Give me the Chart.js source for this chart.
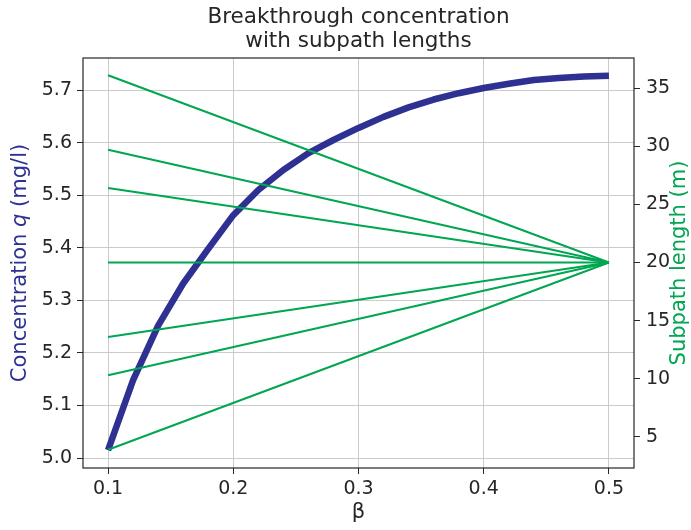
<!DOCTYPE html>
<html>
<head>
<meta charset="utf-8">
<script src="https://cdn.jsdelivr.net/npm/chart.js@4"></script>
<style>
  html, body { margin: 0; padding: 0; background: #fff; }
  canvas { display: block; }
</style>
</head>
<body>
<canvas id="chart" width="691" height="530"></canvas>
<script>
/* ── Data ── */
const betaValues = [0.10, 0.12, 0.14, 0.16, 0.18, 0.20, 0.22, 0.24, 0.26, 0.28, 0.30,
                    0.32, 0.34, 0.36, 0.38, 0.40, 0.42, 0.44, 0.46, 0.48, 0.50];
const concentration = [5.015, 5.148, 5.252, 5.332, 5.398, 5.462, 5.510, 5.548, 5.580, 5.605, 5.628,
                       5.649, 5.667, 5.682, 5.694, 5.704, 5.712, 5.719, 5.723, 5.726, 5.727];
const subpathStart = [36.1, 29.7, 26.4, 20.0, 13.6, 10.3, 3.9];
const subpathEnd = 20.0;
const subpathBeta = [0.1, 0.5];

const xTicks = [0.1, 0.2, 0.3, 0.4, 0.5];
const yTicks = [5.0, 5.1, 5.2, 5.3, 5.4, 5.5, 5.6, 5.7];
const y1Ticks = [5, 10, 15, 20, 25, 30, 35];

const BLUE = '#2e3192';
const GREEN = '#00a651';
const TEXT = '#262626';
const FONT = 'DejaVu Sans';

/* ── Datasets ── */
const greenSets = subpathStart.map(v => ({
  data: [{ x: subpathBeta[0], y: v }, { x: subpathBeta[1], y: subpathEnd }],
  yAxisID: 'y1',
  borderColor: GREEN, borderWidth: 2, pointRadius: 0, order: 0,
}));

const blueSet = {
  data: betaValues.map((b, i) => ({ x: b, y: concentration[i] })),
  yAxisID: 'y',
  borderColor: BLUE, borderWidth: 6.5, pointRadius: 0,
  borderJoinStyle: 'round', tension: 0, order: 1,
};

/* ── Titles, frame ── */
const decor = {
  id: 'decor',
  afterDraw(chart) {
    const { ctx, chartArea: a } = chart;
    ctx.save();
    ctx.strokeStyle = TEXT;
    ctx.lineWidth = 1.2;
    ctx.strokeRect(a.left, a.top, a.right - a.left, a.bottom - a.top);

    const cx = (a.left + a.right) / 2;
    ctx.fillStyle = TEXT;
    ctx.textAlign = 'center';
    ctx.textBaseline = 'middle';
    ctx.font = `21.5px "${FONT}"`;
    ctx.fillText('Breakthrough concentration', cx, 17);
    ctx.fillText('with subpath lengths', cx, 41);

    ctx.font = `21px "${FONT}"`;
    ctx.fillText('β', cx, 513);

    // left axis title, q in italics
    const parts = [['Concentration ', ''], ['q', 'italic '], [' (mg/l)', '']];
    let total = 0;
    parts.forEach(p => { ctx.font = `${p[1]}21px "${FONT}"`; total += ctx.measureText(p[0]).width; });
    ctx.save();
    ctx.translate(21, (a.top + a.bottom) / 2);
    ctx.rotate(-Math.PI / 2);
    ctx.fillStyle = BLUE;
    ctx.textAlign = 'left';
    let px = -total / 2;
    parts.forEach(p => {
      ctx.font = `${p[1]}21px "${FONT}"`;
      ctx.fillText(p[0], px, 0);
      px += ctx.measureText(p[0]).width;
    });
    ctx.restore();

    ctx.save();
    ctx.translate(680, (a.top + a.bottom) / 2);
    ctx.rotate(-Math.PI / 2);
    ctx.fillStyle = GREEN;
    ctx.font = `21px "${FONT}"`;
    ctx.textAlign = 'center';
    ctx.fillText('Subpath length (m)', 0, 0);
    ctx.restore();
    ctx.restore();
  },
};

const tickFont = { family: FONT, size: 19 };

new Chart(document.getElementById('chart'), {
  type: 'line',
  data: { datasets: [...greenSets, blueSet] },
  options: {
    responsive: false,
    animation: false,
    layout: { padding: { top: 58, left: 0, right: 0, bottom: 0 } },
    plugins: { legend: { display: false }, tooltip: { enabled: false }, title: { display: false } },
    scales: {
      x: {
        type: 'linear', min: 0.08, max: 0.52,
        afterBuildTicks: s => { s.ticks = xTicks.map(v => ({ value: v })); },
        afterFit: s => { s.height = 62; },
        border: { display: false },
        grid: { color: '#cbcbcb', lineWidth: 1, tickColor: TEXT, tickLength: 6 },
        ticks: { color: TEXT, font: tickFont, padding: 4, maxRotation: 0, callback: v => v.toFixed(1) },
      },
      y: {
        position: 'left', min: 4.981, max: 5.761,
        afterBuildTicks: s => { s.ticks = yTicks.map(v => ({ value: v })); },
        afterFit: s => { s.width = 83; },
        border: { display: false },
        grid: { color: '#cbcbcb', lineWidth: 1, tickColor: TEXT, tickLength: 6 },
        ticks: { color: TEXT, font: tickFont, padding: 5, callback: v => v.toFixed(1) },
      },
      y1: {
        position: 'right', min: 2.33, max: 37.58,
        afterBuildTicks: s => { s.ticks = y1Ticks.map(v => ({ value: v })); },
        afterFit: s => { s.width = 57; },
        border: { display: false },
        grid: { drawOnChartArea: false, tickColor: TEXT, tickLength: 6 },
        ticks: { color: TEXT, font: tickFont, padding: 6 },
      },
    },
  },
  plugins: [decor],
});
</script>
</body>
</html>
